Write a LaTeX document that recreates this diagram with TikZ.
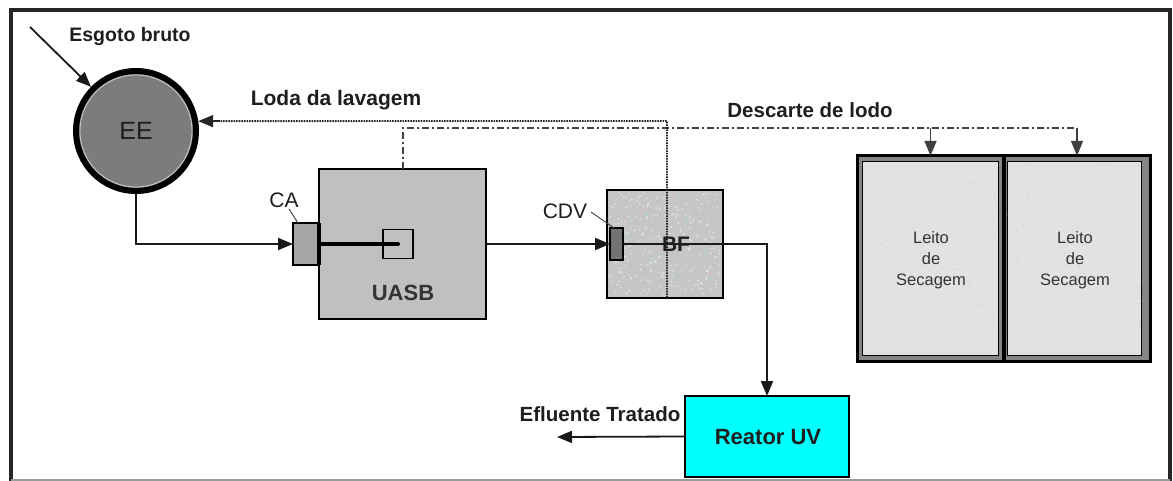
\documentclass[tikz,border=0pt]{standalone}
\usepackage{fontspec}
\setmainfont{Liberation Sans}
\usetikzlibrary{arrows.meta,calc}
\definecolor{eegray}{HTML}{7C7C7C}
\definecolor{uasbgray}{HTML}{C0C0C0}
\definecolor{bfgray}{HTML}{C6C6C6}
\definecolor{leitogray}{HTML}{E2E2E2}
\definecolor{bandgray}{HTML}{858585}
\definecolor{uvcyan}{HTML}{00FFFF}
\definecolor{txt}{HTML}{1E1E1E}
\begin{document}
\begin{tikzpicture}[x=1pt,y=-1pt,
  box/.style={draw=black,line width=2pt,inner sep=0pt,outer sep=0pt},
  flow/.style={draw=black!90,line width=1.8pt},
  arr/.style={-{Triangle[length=15pt,width=12pt]}},
  lbl/.style={text=txt,inner sep=0pt,font=\fontsize{20}{22}\selectfont\bfseries},
  dotline/.style={draw=black!85,line width=1.8pt,dash pattern=on 1.6pt off 1pt},
  dashdot/.style={draw=black!75,line width=1.7pt,dash pattern=on 7pt off 3pt on 2pt off 3pt},
  leitotxt/.style={align=center,text=black!80,font=\fontsize{16.5}{21}\selectfont,inner sep=0pt}]
\useasboundingbox (0,0) rectangle (1173,481);
\fill[white] (0,0) rectangle (1173,481);
% frame
\draw[line width=3.5pt,black!85] (11,482) -- (11,10) -- (1170,10) -- (1170,482);
\draw[line width=2pt,black!40] (11,480) -- (1170,480);

% EE
\node[circle,draw=black,line width=6pt,fill=eegray,minimum size=120pt,inner sep=0pt] (ee) at (136,131) {};
\draw[line width=0.8pt,black!20] (136,131) circle (56pt);
\node[font=\fontsize{25}{25}\selectfont,text=txt] at (136,131) {EE};

% UASB
\node[box,fill=uasbgray,minimum width=167pt,minimum height=150pt] (uasb) at (402.5,244) {};
\node[box,line width=1.4pt,minimum width=30pt,minimum height=29pt] (inner) at (398,244) {};
\node[lbl,font=\fontsize{22}{22}\selectfont\bfseries,text=black!80] at (403,293) {UASB};
% CA
\node[box,line width=1.5pt,fill=black!35,minimum width=26pt,minimum height=42pt] (ca) at (306,244) {};
\draw[line width=3.5pt,black] (ca.north east) -- (ca.south east);
\draw[line width=4pt,black,line cap=round] (ca.east) -- (inner.center);
\node[font=\fontsize{21}{21}\selectfont,text=txt,inner sep=0pt] (calbl) at (284,200) {CA};
\draw[line width=1pt,black!70] (289,209) -- (298,223);

% BF
\node[box,fill=bfgray,minimum width=116pt,minimum height=107pt] (bf) at (665,244) {};
\pgfmathsetseed{7}
\foreach \i in {1,...,260}{\fill[white,opacity=0.55] ({610+110*rnd},{193+101*rnd}) circle (0.9pt);}
\foreach \i in {1,...,12}{\fill[cyan!40,opacity=0.6] ({612+106*rnd},{195+97*rnd}) circle (1.3pt);}
\node[box,line width=1.4pt,fill=black!55,minimum width=13pt,minimum height=32pt] (cdv) at (616.5,244) {};
\node[font=\fontsize{21}{21}\selectfont,text=txt,inner sep=0pt] (cdvlbl) at (565,211) {CDV};
\draw[line width=1pt,black!70] (591,212) -- (614,228);

% Leitos de secagem
\fill[bandgray] (857,156) rectangle (1150,361);
\draw[line width=3pt,black] (857,156) rectangle (1150,361);
\node[draw=black,line width=1pt,fill=leitogray,minimum width=136pt,minimum height=193pt,inner sep=0pt] (l1in) at (930.5,258.5) {};
\node[draw=black,line width=1pt,fill=leitogray,minimum width=134pt,minimum height=193pt,inner sep=0pt] (l2in) at (1074.5,258.5) {};
\pgfmathsetseed{3}
\foreach \i in {1,...,300}{\fill[black!30,opacity=0.35] ({865+277*rnd},{164+188*rnd}) circle (0.7pt);}
\draw[line width=4.5pt,black] (1004,156) -- (1004,361);
\node[minimum width=147pt,minimum height=205pt,inner sep=0pt] (leito1) at (930.5,258.5) {};
\node[minimum width=146pt,minimum height=205pt,inner sep=0pt] (leito2) at (1077,258.5) {};
\node[leitotxt] at (931,260) {Leito\\de\\Secagem};
\node[leitotxt] at (1075,260) {Leito\\de\\Secagem};

% Reator UV
\node[box,fill=uvcyan,minimum width=164pt,minimum height=81pt] (ruv) at (767,436.5) {};
\node[lbl,font=\fontsize{22}{22}\selectfont\bfseries] at (768,437) {Reator UV};

% connectors
\coordinate (es) at (30,27);
\draw[flow,arr] (es) -- (ee);
\draw[flow,arr] (ee.south) |- (ca.west);
\draw[flow,arr] (uasb.east) -- (cdv.west);
\draw[flow,line width=1.5pt] (cdv.east) -- (bf.east);
\draw[flow,arr] (bf.east) -| (ruv.north);
\coordinate (eff) at (557,437);
\draw[flow,arr] (ruv.west) -- (eff);

% sludge lines
\coordinate (ddtop) at (403,128);
\draw[dashdot] (uasb.north -| ddtop) -- (ddtop) -- (ddtop -| leito2.north);
\draw[dashdot,arr,solid] (ddtop -| leito2.north) -- (leito2.north);
\draw[dashdot,arr,solid] (ddtop -| leito1.north) -- (leito1.north);
\coordinate (lvtop) at (667,121);
\draw[dotline] (bf.south -| lvtop) -- (lvtop) -- (ee.9 -| 220,0);
\draw[dotline,arr,solid] (ee.9 -| 220,0) -- (ee.9);

% labels
\node[lbl,font=\fontsize{19.5}{20}\selectfont\bfseries] at (130,37) {Esgoto bruto};
\node[lbl,font=\fontsize{21}{22}\selectfont\bfseries] at (336,100) {Loda da lavagem};
\node[lbl,font=\fontsize{20.5}{22}\selectfont\bfseries] at (810,110) {Descarte de lodo};
\node[lbl,font=\fontsize{20.5}{22}\selectfont\bfseries] at (600,414) {Efluente Tratado};
\node[font=\fontsize{21}{21}\selectfont\bfseries,text=txt,inner sep=0pt] at (676,244) {BF};
\end{tikzpicture}
\end{document}
